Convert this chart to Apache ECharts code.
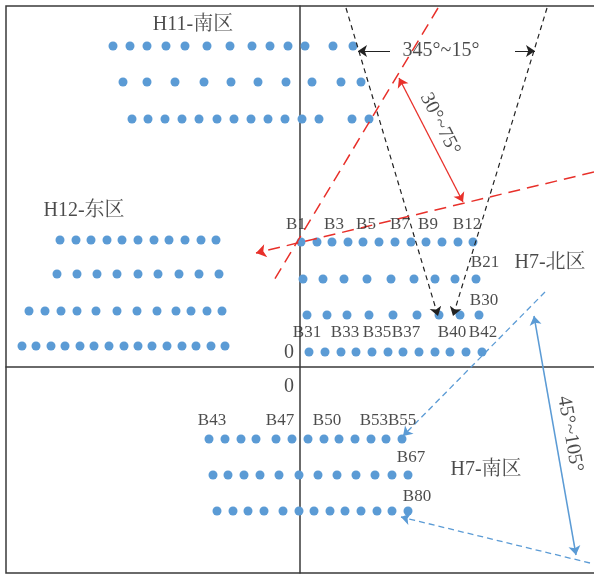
<!DOCTYPE html>
<html>
<head>
<meta charset="utf-8">
<script src="https://cdn.jsdelivr.net/npm/echarts@6/dist/echarts.min.js"></script>
<style>
  html, body { margin: 0; padding: 0; background: #fff; }
  #chart { width: 594px; height: 575px; }
</style>
</head>
<body>
<div id="chart"></div>
<script>
// 坐标原点在两条轴线的交点
const h11Y = [321, 285, 248]
const h11X = [
  [-187, -170, -153, -134, -115, -93, -70, -48, -30, -12, 5, 33, 53],
  [-177, -153, -125, -96, -69, -42, -14, 12, 41, 61],
  [-168, -152, -135, -118, -101, -83, -66, -49, -32, -15, 2, 19, 52, 69]
]
const h12Y = [127, 93, 56, 21]
const h12X = [
  [-240, -224, -209, -193, -178, -162, -146, -131, -115, -99, -84],
  [-243, -223, -203, -183, -162, -142, -121, -101, -81],
  [-271, -255, -239, -223, -204, -183, -163, -143, -124, -109, -93, -78],
  [-278, -264, -249, -235, -220, -206, -191, -176, -162, -148, -133, -118, -104, -89, -75]
]
const h7nY = [125, 88, 52, 15]
const h7nX = [
  [1, 17, 32, 48, 63, 79, 95, 111, 126, 142, 158, 173],
  [3, 23, 44, 67, 91, 114, 135, 155, 176],
  [7, 27, 47, 69, 93, 117, 139, 160, 179],
  [9, 25, 41, 56, 72, 88, 103, 119, 135, 150, 166, 182]
]
const h7sY = [-72, -108, -144]
const h7sX = [
  [-91, -75, -59, -44, -24, -8, 8, 24, 39, 55, 71, 86, 102],
  [-87, -72, -56, -40, -21, -1, 18, 37, 56, 75, 92, 108],
  [-83, -67, -52, -36, -17, -1, 14, 30, 45, 61, 77, 92, 108]
]

// 测点编号
const pointNames = ['B1', 'B3', 'B5', 'B7', 'B9', 'B12', 'B21', 'B30',
  'B31', 'B33', 'B35', 'B37', 'B40', 'B42', 'B43', 'B47', 'B50', 'B53B55', 'B67', 'B80']
const pointPos = [[-4, 142], [34, 142], [66, 142], [100, 142], [128, 142], [167, 142], [185, 104], [184, 66],
  [7, 34], [45, 34], [77, 34], [106, 34], [152, 34], [183, 34],
  [-88, -54], [-20, -54], [27, -54], [88, -54], [111, -91], [117, -130]]

// 区域名称
const zoneNames = ['H11-南区', 'H12-东区', 'H7-北区', 'H7-南区']
const zonePos = [[-107, 342], [-216, 156], [250, 104], [186, -103]]

// 角度范围
const angleNames = ['345°~15°', '30°~75°', '45°~105°']
const anglePos = [[141, 316], [140, 243], [270, -67]]
const angleRotate = [0, -63, -80]

// 各条线段
const blackDashed = [[[46, 359], [138, 51]], [[247, 359], [153, 51]]]
const blackArrows = [[[90, 316], [58, 316]], [[215, 316], [235, 316]]]
const redSteep = [[138, 359], [-27, 85]]
const redShallow = [[294, 195], [-44, 114]]
const redArrow = [[99, 289], [163, 165]]
const blueDashed = [[[245, 75], [103, -69]], [[290, -196], [101, -150]]]
const blueArrow = [[234, 51], [276, -188]]

const BLUE = '#5b9bd5'
const RED = '#e8302a'
const TEXT = '#1e1e1e'
const FONT = "'Liberation Serif', 'Noto Serif CJK SC', 'Noto Sans CJK SC', serif"

const chart = echarts.init(document.getElementById('chart'))

const dotSeries = (ys, xs) => ({
  type: 'scatter',
  symbolSize: 9,
  itemStyle: { color: BLUE, opacity: 1 },
  data: xs.flatMap((row, i) => row.map(x => [x, ys[i]])),
  z: 3
})

const textSeries = (names, pos, size, rotate) => ({
  type: 'scatter',
  symbolSize: 0,
  silent: true,
  data: names.map((n, i) => ({
    name: n,
    value: pos[i],
    label: { rotate: rotate ? rotate[i] : 0 }
  })),
  label: {
    show: true,
    position: 'inside',
    formatter: '{b}',
    color: TEXT,
    fontSize: size,
    fontFamily: FONT
  },
  z: 5
})

const lineSeries = (segs, color, width, dash, symbol, size) => ({
  type: 'lines',
  coordinateSystem: 'cartesian2d',
  symbol: symbol,
  symbolSize: size,
  lineStyle: { color: color, width: width, type: dash, opacity: 1 },
  data: segs.map(c => ({ coords: c })),
  z: 4
})

const option = {
  animation: false,
  grid: {
    left: 6, top: 6, width: 600, height: 567,
    outerBoundsMode: 'none',
    show: true, borderColor: '#3a3a3a', borderWidth: 1.5
  },
  xAxis: {
    type: 'value', min: -294, max: 306,
    axisLine: { onZero: true, lineStyle: { color: '#3a3a3a', width: 1.5 } },
    axisTick: { show: false }, axisLabel: { show: false }, splitLine: { show: false }
  },
  yAxis: {
    type: 'value', min: -206, max: 361,
    axisLine: { onZero: true, lineStyle: { color: '#3a3a3a', width: 1.5 } },
    axisTick: { show: false }, axisLabel: { show: false }, splitLine: { show: false }
  },
  series: [
    dotSeries(h11Y, h11X),
    dotSeries(h12Y, h12X),
    dotSeries(h7nY, h7nX),
    dotSeries(h7sY, h7sX),
    lineSeries(blackDashed, '#222', 1.2, [5, 4], ['none', 'arrow'], 9),
    lineSeries(blackArrows, '#222', 1.2, 'solid', ['none', 'arrow'], 9),
    lineSeries([redSteep], RED, 1.5, [12, 7], 'none', 0),
    lineSeries([redShallow], RED, 1.5, [12, 7], ['none', 'arrow'], 10),
    lineSeries([redArrow], RED, 1.3, 'solid', ['arrow', 'arrow'], 9),
    lineSeries(blueDashed, BLUE, 1.3, [6, 4], ['none', 'arrow'], 9),
    lineSeries([blueArrow], BLUE, 1.5, 'solid', ['arrow', 'arrow'], 9),
    textSeries(pointNames, pointPos, 17),
    textSeries(zoneNames, zonePos, 20),
    textSeries(angleNames, anglePos, 20, angleRotate),
    textSeries(['0', '0'], [[-11, 14], [-11, -20]], 20)
  ]
}

chart.setOption(option)
</script>
</body>
</html>
